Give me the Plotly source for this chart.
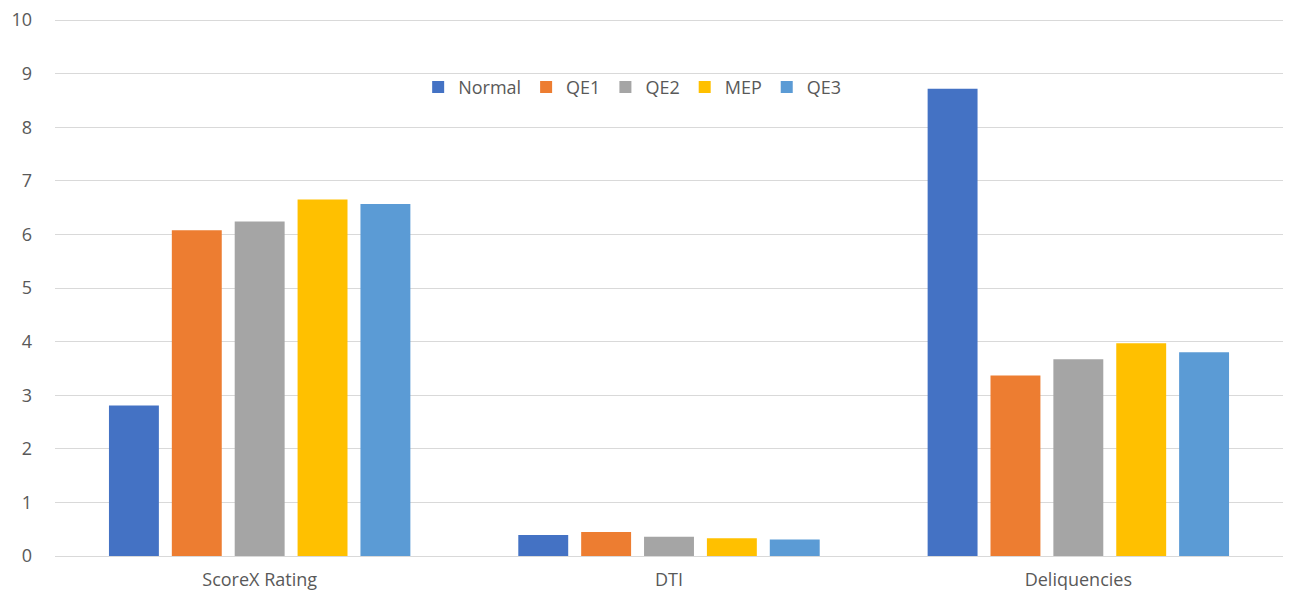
import plotly.graph_objects as go

categories = ["ScoreX Rating", "DTI", "Deliquencies"]
series_names = ["Normal", "QE1", "QE2", "MEP", "QE3"]
normal = [2.81, 0.39, 8.72]
qe1 = [6.08, 0.45, 3.37]
qe2 = [6.24, 0.36, 3.67]
mep = [6.65, 0.33, 3.97]
qe3 = [6.57, 0.31, 3.80]
y_ticks = list(range(0, 11))

colors = ["#4472C4", "#ED7D31", "#A5A5A5", "#FFC000", "#5B9BD5"]
values = [normal, qe1, qe2, mep, qe3]

fig = go.Figure()
for name, vals, col in zip(series_names, values, colors):
    fig.add_trace(go.Bar(
        x=categories, y=vals, name=name,
        marker=dict(color=col, line=dict(color=col, width=0)),
    ))

font_family = "Open Sans, Liberation Sans, sans-serif"
fig.update_layout(
    width=1291, height=594,
    margin=dict(l=55, r=8, t=19, b=38),
    plot_bgcolor="white", paper_bgcolor="white",
    barmode="group", bargap=0.232, bargroupgap=0.206,
    font=dict(family=font_family, size=18, color="#595959"),
    legend=dict(
        orientation="h", x=0.47, xanchor="center", y=0.873, yanchor="middle",
        font=dict(family=font_family, size=18, color="#595959"),
        bgcolor="rgba(0,0,0,0)", itemwidth=30, traceorder="normal",
    ),
    xaxis=dict(showgrid=False, showline=False, ticks="", automargin=False,
               tickfont=dict(size=18), ticklabelstandoff=11),
    yaxis=dict(
        range=[0, 10.02], tickvals=y_ticks, showgrid=True, gridcolor="#D9D9D9",
        gridwidth=1, zeroline=True, zerolinecolor="#D9D9D9", zerolinewidth=1,
        ticks="", ticklabelstandoff=22, tickfont=dict(size=18), automargin=False,
    ),
)

fig.write_html("out.html")
